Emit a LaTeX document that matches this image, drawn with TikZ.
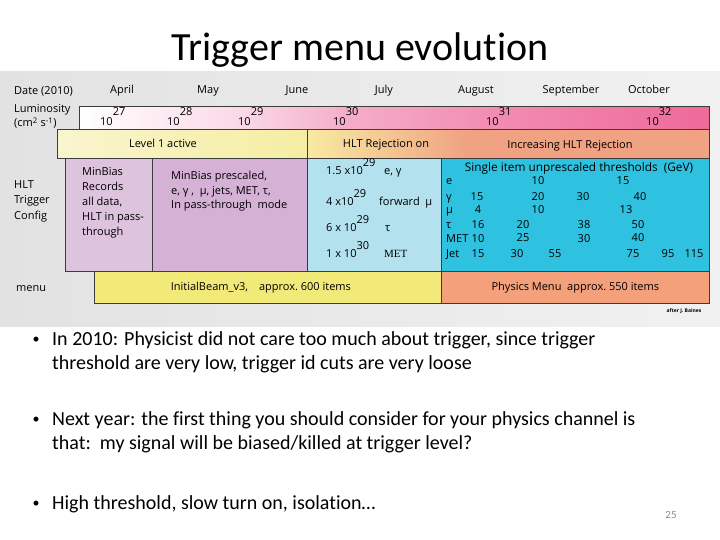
\documentclass[tikz,border=0pt]{standalone}
\usepackage{fontspec}
\setmainfont{Carlito}[Ligatures=NoCommon]
\newfontfamily\diagfont{Open Sans}
\newfontfamily\metfont{Liberation Serif}
\usepackage{tikz}
\usepackage{xcolor}

\definecolor{framegray}{HTML}{3C3C3C}
\definecolor{imgleft}{HTML}{E2E2E2}
\definecolor{imgmid}{HTML}{F7F7F7}
\definecolor{imgright}{HTML}{F1F1F1}
\definecolor{lumiA}{HTML}{FAD8E6}
\definecolor{lumiB}{HTML}{F5AEC8}
\definecolor{lumiC}{HTML}{F28CB0}
\definecolor{lumiD}{HTML}{EE6A9A}
\definecolor{lvlpale}{HTML}{F9F5CE}
\definecolor{lvlyellow}{HTML}{F5EDA2}
\definecolor{hltA}{HTML}{F8EAA2}
\definecolor{hltB}{HTML}{F0A283}
\definecolor{recpurple}{HTML}{DDC3DE}
\definecolor{prepurple}{HTML}{D6B1D6}
\definecolor{lowblue}{HTML}{B3E1EE}
\definecolor{thrcyan}{HTML}{2FC1E0}
\definecolor{menuyellow}{HTML}{F2EA78}
\definecolor{menuorange}{HTML}{F4A07A}
\definecolor{numgray}{HTML}{8C8C8C}

\pgfdeclarehorizontalshading{lumishade}{100bp}{color(0bp)=(white); color(25bp)=(white); color(38bp)=(lumiA); color(46bp)=(lumiB); color(58bp)=(lumiC); color(75bp)=(lumiD); color(100bp)=(lumiD)}
\pgfdeclarehorizontalshading{hltshade}{100bp}{color(0bp)=(hltA); color(25bp)=(hltA); color(45bp)=(hltB); color(100bp)=(hltB)}

\tikzstyle{band}=[
    draw = framegray,
    line width = 0.7pt,
    inner sep = 0pt,
    anchor = north west
]
\tikzstyle{lbl}=[inner sep=0pt, font=\diagfont\fontsize{11}{13}\selectfont]
\tikzstyle{slide text}=[inner sep=0pt, anchor=west, align=left, font=\fontsize{20}{24}\selectfont]

\newcommand\upx[2][8pt]{\raisebox{#1}{#2}}

\begin{document}
\begin{tikzpicture}[x=1pt, y=-1pt]
        \useasboundingbox (0,0) rectangle (720,540);
        \fill[white] (0,0) rectangle (720,540);
        \shade[left color=imgleft, middle color=imgmid, right color=imgright] (0,72) rectangle (720,326);

        \node[font=\fontsize{40}{44}\selectfont] (title) at (360,50) {Trigger menu evolution};

        % dates and luminosity
        \node[lbl, anchor=base west] (date) at (14,95) {Date (2010)};
        \foreach \m/\x [count=\i] in {April/122, May/208, June/297, July/384, August/476, September/571, October/649}
            \node[lbl, anchor=base] (month\i) at (\x,94) {\m};
        \node[lbl, anchor=base west] (lumitext) at (14,113) {Luminosity};
        \node[lbl, anchor=base west] (unit) at (14,127) {(cm\textsuperscript{2} s\textsuperscript{-1})};
        \node[band, minimum width=630pt, minimum height=23pt, shade, shading=lumishade] (lumibar) at (79,106) {};
        \foreach \x/\e [count=\i] in {100/27, 167/28, 238/29, 333/30, 486/31, 646/32}
            \node[lbl, anchor=base west] (pow\i) at (\x,126) {10\upx[10pt]{\e}};

        % level 1 and HLT rejection
        \node[band, minimum width=250pt, minimum height=29pt, left color=lvlpale, right color=lvlyellow] (lvl1) at (57,129) {};
        \node[band, minimum width=402pt, minimum height=29pt, shade, shading=hltshade] (hlt) at (307,129) {};
        \node[lbl, anchor=base] (lvl1text) at (163,148) {Level 1 active};
        \node[lbl, anchor=base] (hlton) at (386,148) {HLT Rejection on};
        \node[lbl, anchor=base] (hltmore) at (570,149) {Increasing HLT Rejection};

        % HLT trigger configuration
        \node[lbl, anchor=west, align=left, font=\diagfont\fontsize{11}{15.5}\selectfont] (config) at (14,201) {HLT\\Trigger\\Config};
        \node[band, minimum width=87pt, minimum height=113pt, fill=recpurple] (rec) at (65,158) {};
        \node[band, minimum width=155pt, minimum height=113pt, fill=prepurple] (pre) at (152,158) {};
        \node[band, minimum width=134pt, minimum height=113pt, fill=lowblue] (low) at (307,158) {};
        \node[band, minimum width=268pt, minimum height=113pt, fill=thrcyan] (thr) at (441,158) {};

        \node[lbl, anchor=north west, align=left, font=\diagfont\fontsize{11}{15}\selectfont] (rectext) at (82,167) {MinBias\\Records\\all data,\\HLT in pass-\\through};
        \node[lbl, anchor=north west, align=left, font=\diagfont\fontsize{11}{14.5}\selectfont] (pretext) at (171,171) {MinBias prescaled,\\e, γ ,\ \ μ, jets, MET, τ,\\In pass-through\ \ mode};

        \node[lbl, anchor=base west] (low1) at (326,175) {1.5 x10\upx{29}};
        \node[lbl, anchor=base west] (low2) at (326,206) {4 x10\upx{29}};
        \node[lbl, anchor=base west] (low3) at (326,231) {6 x 10\upx{29}};
        \node[lbl, anchor=base west] (low4) at (326,257) {1 x 10\upx{30}};
        \node[lbl, anchor=base west] (eg) at (384,175) {e, γ};
        \node[lbl, anchor=base west] (fmu) at (379,206) {forward\ \ μ};
        \node[lbl, anchor=base west] (tau) at (385,231) {τ};
        \node[lbl, anchor=base west, font=\metfont\fontsize{11}{13}\selectfont] (met) at (384,257) {MET};

        \node[lbl, anchor=base, font=\diagfont\fontsize{11.8}{14}\selectfont] (thrhead) at (579,172) {Single item unprescaled thresholds\ \ (GeV)};
        \foreach \t/\y [count=\i] in {e/185, γ/201, μ/214, τ/229, MET/243, Jet/257}
            \node[lbl, anchor=base west] (obj\i) at (446,\y) {\t};
        \foreach \x/\y/\v [count=\i] in {538/185/10, 623/185/15,
                477/201/15, 538/201/20, 583/201/30, 640/201/40,
                478/214/4, 538/214/10, 626/214/13,
                478/229/16, 523/229/20, 584/229/38, 638/229/50,
                478/243/10, 523/241/25, 584/243/30, 638/241/40,
                478/257/15, 517/257/30, 555/257/55, 633/257/75, 668/257/95, 694/257/115}
            \node[lbl, anchor=base] (cut\i) at (\x,\y) {\v};

        % menus
        \node[lbl, anchor=base west] (menu) at (16,291) {menu};
        \node[band, lbl, minimum width=347pt, minimum height=32pt, fill=menuyellow] (beam) at (94,271) {InitialBeam\_v3,\quad approx.\ 600 items\hspace*{14pt}};
        \node[band, lbl, minimum width=268pt, minimum height=32pt, fill=menuorange] (phys) at (441,271) {Physics Menu\ \ approx.\ 550 items};
        \node[lbl, font=\diagfont\bfseries\fontsize{5}{6}\selectfont] (credit) at (684,311) {after J. Baines};

        % slide text
        \node[font=\fontsize{14}{16}\selectfont] (dot1) at (36,340) {\textbullet};
        \node[font=\fontsize{14}{16}\selectfont] (dot2) at (36,420) {\textbullet};
        \node[font=\fontsize{14}{16}\selectfont] (dot3) at (36,504) {\textbullet};
        \node[slide text] (b1) at (52,352) {In 2010: Physicist did not care too much about trigger, since trigger\\threshold are very low, trigger id cuts are very loose};
        \node[slide text] (b2) at (52,432) {Next year: the first thing you should consider for your physics channel is\\that:\ \ my signal will be biased/killed at trigger level?};
        \node[slide text] (b3) at (52,504) {High threshold, slow turn on, isolation…};
        \node[font=\fontsize{11}{13}\selectfont, text=numgray] (page) at (671,515) {25};

    \end{tikzpicture}
\end{document}
